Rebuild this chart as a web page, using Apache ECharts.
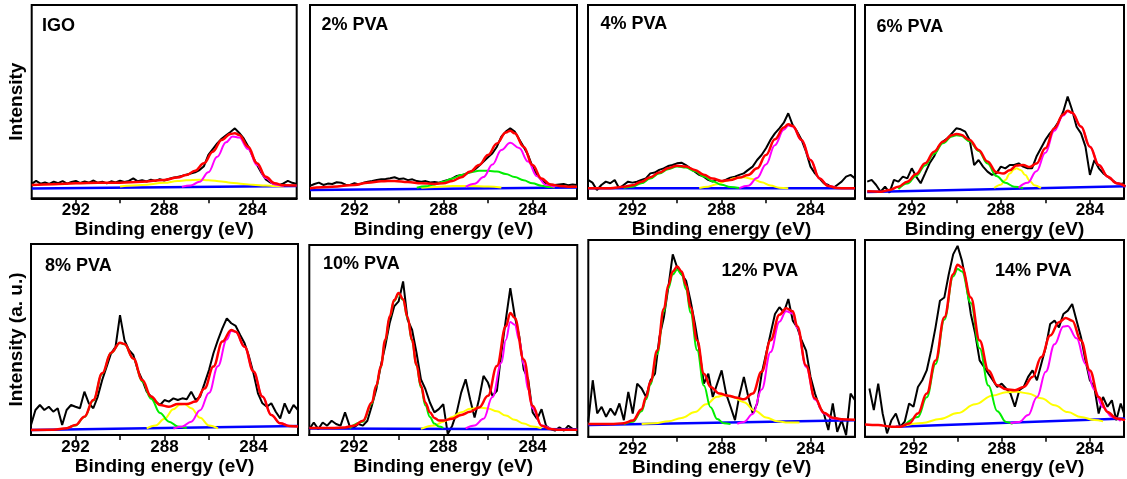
<!DOCTYPE html>
<html>
<head>
<meta charset="utf-8">
<script src="https://cdn.jsdelivr.net/npm/echarts@6/dist/echarts.min.js"></script>
<style>
html,body{margin:0;padding:0;background:#fff;}
#chart{width:1127px;height:479px;}
</style>
</head>
<body>
<div id="chart"></div>
<script>
// ---- C 1s spectra: binding energy grid of the measured points (eV) ----
const energy = [
  294.0,293.8,293.6,293.4,293.2,293.0,292.8,292.6,292.4,292.2,
  292.0,291.8,291.6,291.4,291.2,291.0,290.8,290.6,290.4,290.2,
  290.0,289.8,289.6,289.4,289.2,289.0,288.8,288.6,288.4,288.2,
  288.0,287.8,287.6,287.4,287.2,287.0,286.8,286.6,286.4,286.2,
  286.0,285.8,285.6,285.4,285.2,285.0,284.8,284.6,284.4,284.2,
  284.0,283.8,283.6,283.4,283.2,283.0,282.8,282.6,282.4,282.2,
  282.0
];

// ---- measured intensities (a. u.), one value per energy point ----
const raw_IGO = [
  7.5,9.0,7.6,8.2,7.4,8.6,7.8,8.9,7.6,8.4,
  9.0,7.9,8.7,8.1,9.2,8.0,8.6,7.7,8.8,8.2,
  9.1,8.4,9.0,10.3,8.8,9.4,8.7,9.6,9.0,9.9,
  9.2,10.0,10.6,11.0,11.6,12.2,12.8,13.4,14.6,16.6,
  22.5,25.5,28.4,30.8,32.6,34.3,36.2,33.8,31.0,26.9,
  21.8,17.4,13.2,9.8,8.2,7.2,6.8,7.7,9.0,8.0,
  7.4
];
const raw_PVA2 = [
  6.4,7.4,8.1,6.9,7.6,7.4,8.3,8.1,7.0,6.9,
  7.8,7.2,8.0,8.6,9.0,9.5,9.8,10.0,10.4,10.9,
  10.0,10.3,9.4,9.8,8.9,8.6,8.9,8.2,8.4,8.1,
  8.8,9.5,10.3,11.6,12.0,12.6,13.6,14.7,16.8,19.0,
  21.2,23.3,26.7,31.9,34.5,36.2,34.5,30.5,26.7,22.4,
  16.4,12.0,9.5,7.8,7.2,6.9,7.2,7.4,6.8,7.1,
  6.9
];
const raw_PVA4 = [
  9.5,8.1,4.3,6.9,8.6,7.8,9.5,5.2,6.9,8.6,
  8.1,8.6,9.5,10.3,12.9,13.3,14.7,15.5,16.7,17.2,
  18.1,18.4,17.2,15.5,13.8,12.1,11.2,9.5,8.6,9.5,
  8.6,9.6,10.7,11.2,12.1,12.9,14.7,16.4,19.8,22.4,
  25.9,30.2,33.6,36.2,39.1,44.0,37.9,34.5,30.2,24.1,
  16.4,12.9,10.3,7.8,6.9,5.2,6.9,8.6,11.2,12.1,
  10.3
];
const raw_PVA6 = [
  8.6,9.5,6.9,3.4,6.0,2.9,9.5,8.6,11.2,10.3,
  15.5,11.2,7.8,12.9,18.1,21.6,26.7,29.3,31.0,33.6,
  36.2,35.7,34.5,30.2,17.2,19.8,16.4,13.8,12.1,12.9,
  16.4,15.5,17.2,17.2,18.1,16.4,15.5,15.5,21.6,25.9,
  30.2,33.6,36.2,39.7,44.8,52.6,45.7,37.0,33.6,26.7,
  12.1,19.8,15.5,12.9,11.2,9.5,7.8,7.4,8.1,7.6,
  7.4
];
const raw_PVA8 = [
  5.2,13.1,15.7,13.1,14.8,12.2,14.0,5.2,13.1,15.7,
  14.8,14.0,22.7,16.6,14.0,20.1,28.8,35.8,42.8,46.2,
  62.8,49.7,44.5,41.9,34.0,28.8,22.7,20.1,17.5,15.7,
  18.3,17.5,19.2,18.3,19.2,18.7,22.7,18.3,20.1,27.0,
  34.0,42.8,49.7,55.8,61.1,58.5,57.1,52.4,48.0,41.0,
  32.3,21.8,16.6,14.8,16.6,12.2,8.7,16.6,11.3,15.7,
  13.1
];
const raw_PVA10 = [
  3.1,6.6,3.1,6.6,4.9,7.5,5.8,4.9,11.9,4.9,
  4.0,5.8,4.9,7.5,15.4,24.1,36.3,46.8,59.0,67.7,
  70.3,80.8,60.7,55.5,43.3,29.3,24.1,17.1,11.9,13.6,
  16.2,0.5,4.9,11.9,22.3,29.3,18.8,9.2,18.8,31.1,
  27.6,20.6,23.2,43.3,60.7,77.3,62.5,52.0,34.6,29.3,
  11.9,8.4,13.6,4.9,3.1,2.3,4.0,2.3,4.9,3.1,
  2.3
];
const raw_PVA12 = [
  7.6,28.7,11.8,15.2,10.1,14.3,11.0,16.9,8.4,22.8,
  11.8,27.0,24.5,20.2,28.7,32.0,50.6,60.7,75.9,92.7,
  86.0,82.6,79.3,69.1,57.3,43.8,27.0,32.0,20.2,27.0,
  33.7,21.9,15.2,8.4,21.1,30.4,20.2,11.8,16.9,32.0,
  42.2,52.3,62.4,65.8,63.2,70.0,59.0,55.6,48.9,43.8,
  30.4,21.9,15.2,11.8,3.4,16.9,2.5,8.4,0.8,21.9,
  18.5
];
const raw_PVA14 = [
  24.5,13.5,27.0,11.8,1.7,8.4,11.8,5.0,7.6,16.9,
  15.2,25.3,28.7,33.7,43.8,55.6,69.1,70.8,82.6,92.7,
  97.0,89.4,77.6,62.4,52.3,38.8,35.4,32.0,28.7,25.3,
  27.0,24.5,21.9,15.2,23.6,25.3,30.4,33.7,28.7,37.1,
  45.5,57.3,59.0,55.6,62.4,64.1,67.5,59.0,50.6,38.8,
  28.7,25.3,11.8,20.2,15.2,18.5,8.4,16.9,10.1,12.0,
  11.0
];

// ---- fitted envelopes [eV, intensity] ----
const fit_IGO = [[294,6.9],[293,7.3],[292,7.8],[291,8.0],[290,8.1],[289,8.6],[288,9.5],[287.4,10.7],[287,12],[286.6,14.3],[286.2,18.1],[285.8,24.1],[285.4,30.2],[285.0,33.3],[284.8,33.6],[284.6,32.8],[284.2,26.7],[283.8,18.1],[283.4,11.2],[283.0,7.8],[282.6,6.7],[282,6.6]];
const fit_PVA2 = [[294,5.2],[293,6.0],[292,6.9],[291.4,8.1],[290.8,8.8],[290.2,9.0],[289.6,8.4],[289,7.8],[288.4,7.4],[288,7.8],[287.6,9.0],[287.2,10.9],[286.8,13.8],[286.4,17.2],[286,22.4],[285.6,28.4],[285.2,34.0],[285,35.0],[284.8,33.6],[284.4,26.7],[284,17.2],[283.6,10.3],[283.2,7.2],[282.8,6.4],[282.4,6.0],[282,6.0]];
const fit_PVA4 = [[294,5.2],[293,5.2],[292.4,6.0],[292,6.7],[291.6,8.6],[291.2,10.9],[290.8,13.3],[290.4,15.5],[290,16.9],[289.6,16.4],[289.2,14.7],[288.8,12.2],[288.4,10.2],[288,9.0],[287.6,9.5],[287.2,10.7],[286.8,12.1],[286.4,15.5],[286,22.4],[285.6,30.5],[285.2,36.6],[285,38.3],[284.8,37.4],[284.4,30.2],[284,19.8],[283.6,10.3],[283.2,6.4],[282.8,5.3],[282.4,5.2],[282,5.2]];
const fit_PVA6 = [[294,3.6],[293.4,3.4],[293,4.3],[292.6,6.0],[292.2,8.6],[291.8,12.6],[291.4,18.1],[291,24.1],[290.6,29.3],[290.2,32.6],[290,33.3],[289.8,32.9],[289.4,30.2],[289,25],[288.6,19],[288.2,13.5],[287.9,12.8],[287.6,14.5],[287.3,17.0],[287.0,17.2],[286.7,16.2],[286.4,18.0],[286,25.9],[285.6,36.2],[285.2,43.4],[285,45.3],[284.8,44.3],[284.4,37.1],[284,26.7],[283.6,17.2],[283.2,11.2],[282.8,7.8],[282.4,6.2]];
const fit_PVA8 = [[294,2.6],[293,2.7],[292.4,3.5],[292,5.2],[291.6,9.6],[291.2,18.3],[290.8,32.3],[290.4,43.1],[290,48.3],[289.8,47.6],[289.4,40.1],[289,28.8],[288.6,20.1],[288.2,15.7],[287.8,14.8],[287.4,16.2],[287,16.2],[286.6,17.5],[286.2,24.4],[285.8,35.8],[285.4,48.9],[285,55],[284.8,54.1],[284.4,46.2],[284,33.2],[283.6,20.1],[283.2,10.5],[282.8,6.1],[282.4,4.7],[282,4.4]];
const fit_PVA10 = [[294,3.7],[293,3.7],[292.4,4.0],[292,4.9],[291.6,7.5],[291.2,17.1],[291,26],[290.8,36],[290.6,50],[290.4,62.5],[290.2,71],[290,74.7],[289.8,71.5],[289.6,62],[289.4,50],[289.2,37],[289,26],[288.8,17],[288.6,12],[288.4,9],[288.2,7.6],[288,7.6],[287.6,8.6],[287.2,10.5],[286.8,12.2],[286.4,14.5],[286,20.6],[285.6,36.3],[285.2,57.2],[285,64.2],[284.8,61.6],[284.4,39.8],[284,15.4],[283.6,4.9],[283.2,3.1],[282.8,2.8],[282,2.8]];
const fit_PVA12 = [[294,6.4],[293,6.4],[292.4,6.9],[292,8.2],[291.6,14],[291.4,20.2],[291.2,28],[290.9,43.8],[290.6,65],[290.4,77],[290.2,84],[290,86.5],[289.8,84],[289.6,77],[289.4,65.8],[289.1,48.9],[288.8,32],[288.5,25.3],[288.1,21.9],[287.7,20.8],[287.3,19.8],[287,19],[286.6,22],[286.2,33],[285.8,49],[285.4,62],[285.1,65.3],[284.8,63.8],[284.6,56.2],[284.2,36.2],[283.8,19.5],[283.4,12.2],[283,9.6],[282.6,8.9],[282,8.6]];
const fit_PVA14 = [[294.2,6.2],[293.6,5.9],[293,5.1],[292.6,5.1],[292.2,6.7],[291.8,11.8],[291.4,21.9],[291,38.8],[290.6,60.7],[290.2,82.6],[290,87.4],[289.8,86],[289.4,70.8],[289,48.9],[288.6,33.7],[288.2,26.1],[287.8,24.1],[287.4,23.6],[287,25.3],[286.6,30.4],[286.2,40.5],[285.8,51.4],[285.4,58.2],[285.1,60.4],[284.8,59],[284.4,48.9],[284,33.7],[283.6,20.2],[283.2,12.6],[282.8,9.3],[282.4,8.4]];

// ---- C–C / C=C component (~284.9 eV) ----
const cc_IGO = [[287.2,5.9],[286.8,6.6],[286.4,8.6],[286.0,13.5],[285.6,21.5],[285.2,29.0],[284.9,32.0],[284.6,31.4],[284.2,25.5],[283.8,17.2],[283.4,10.5],[283.0,7.2],[282.6,6.2]];
const cc_PVA2 = [[287,5.9],[286.6,7.5],[286.2,11],[285.8,17.5],[285.4,25],[285,28.8],[284.6,26],[284.2,19],[283.8,11.5],[283.4,7],[283,5.8]];
const cc_PVA4 = [[287.2,5.3],[286.8,6.5],[286.4,10.5],[286.0,17.5],[285.6,27.5],[285.2,35.5],[285.0,37.6],[284.8,37.2],[284.4,30],[284,19.8],[283.6,10.3],[283.2,6.4],[282.8,5.3]];
const cc_PVA6 = [[287.2,5.5],[286.8,8],[286.4,14],[286,23.5],[285.6,35],[285.2,42.8],[285,45],[284.8,44.1],[284.4,37],[284,26.7],[283.6,17.2],[283.2,11.2],[282.8,7.8],[282.4,6.2]];
const cc_PVA8 = [[287.6,3.3],[287.2,4.5],[286.8,7],[286.4,13],[286,22],[285.6,36],[285.2,50],[285,54.5],[284.8,54],[284.4,46.2],[284,33.2],[283.6,20.1],[283.2,10.5],[282.8,6.1],[282.4,4.7]];
const cc_PVA10 = [[287,3.5],[286.6,5],[286.2,8.5],[285.8,20],[285.4,38],[285.2,50],[285,59.5],[284.8,58],[284.6,50],[284.4,37],[284.2,24],[284,14],[283.6,5],[283.2,3.2]];
const cc_PVA12 = [[287.3,6.6],[287,7.5],[286.6,11.5],[286.2,24],[285.8,43],[285.4,58.5],[285.1,63.8],[284.8,62.6],[284.6,55.3],[284.2,35.5],[283.8,18.9],[283.4,11.8],[283,9.2],[282.6,8.5]];
const cc_PVA14 = [[287.6,6.8],[287.2,7.5],[286.8,11],[286.4,20],[286,33],[285.6,47],[285.2,56],[285,56.3],[284.6,50],[284.2,37],[283.8,24],[283.4,15],[283,10],[282.6,8]];

// ---- C–O component (yellow) ----
const co_IGO = [[290,6.1],[289,6.9],[288,8.0],[287.4,8.9],[287,9.3],[286.4,9.6],[286,9.4],[285.4,8.7],[285,8.1],[284.4,7.4],[284,7.0],[283.4,6.6],[283,6.3],[282.6,6.1]];
const co_PVA2 = [[289,5.4],[288.4,5.9],[287.6,6.3],[286.8,6.4],[286,6.1],[285.4,5.6]];
const co_PVA4 = [[289,5.3],[288.6,6.0],[288.2,7.3],[287.8,9.0],[287.4,10.4],[287,10.9],[286.6,10.0],[286.2,8.3],[285.8,6.6],[285.4,5.5],[285,5.2]];
const co_PVA6 = [[288.3,5.3],[288,7],[287.8,9.5],[287.6,12.8],[287.4,15.0],[287.3,15.5],[287.1,14.5],[286.9,12],[286.7,9],[286.5,6.8],[286.2,5.4]];
const co_PVA8 = [[288.8,3.5],[288.4,5],[288,8.5],[287.6,13.5],[287.3,16.0],[287.1,16.2],[286.8,14],[286.4,9],[286,5],[285.6,3.5]];
const co_PVA10 = [[289,3.2],[288.4,5],[288,7.0],[287.6,9.5],[287.2,12],[286.8,13.8],[286.4,14.5],[286,14],[285.6,12.5],[285.2,10.2],[284.8,8],[284.4,6],[284,4.5],[283.6,3.5]];
const co_PVA12 = [[291.6,6.4],[291,6.9],[290.4,7.8],[289.8,9.5],[289.2,12.5],[288.7,16.5],[288.2,20.3],[287.9,21.1],[287.5,20.3],[287,17.5],[286.5,13.2],[286,9.8],[285.5,7.8],[285,7.2],[284.5,7.2]];
const co_PVA14 = [[292.5,5.5],[291.6,7],[290.8,9],[290,12],[289.2,16.5],[288.4,21],[287.8,22.6],[287.3,22.8],[286.8,22],[286.2,19.5],[285.6,16],[285,12.5],[284.4,10],[283.8,8.5],[283.4,7.8]];

// ---- higher-energy component (green) ----
const hi_PVA2 = [[289.2,5.5],[288.8,6.2],[288.4,7.2],[288,8.6],[287.6,10.3],[287.2,12],[286.8,13.4],[286.4,14.2],[286,14.3],[285.6,13.8],[285.2,12.6],[284.8,11],[284.4,9.3],[284,7.8],[283.6,6.5],[283.2,5.8],[283,5.6]];
const hi_PVA4 = [[292.4,5.5],[292,6.0],[291.6,7.8],[291.2,10.2],[290.8,12.8],[290.4,15.0],[290,16.4],[289.6,15.9],[289.2,14.0],[288.8,11.3],[288.4,8.8],[288,7.0],[287.6,5.8],[287.2,5.3]];
const hi_PVA6 = [[292.6,4.8],[292.2,7.6],[291.8,11.6],[291.4,17],[291,23],[290.6,28.5],[290.2,32],[290,32.6],[289.8,32.3],[289.4,29.5],[289,24.5],[288.6,18],[288.2,11.5],[287.8,8],[287.4,6],[287,5.3]];
const hi_PVA8 = [[292.4,3.3],[292,5.0],[291.6,9.4],[291.2,18],[290.8,32],[290.4,43],[290,48.2],[289.8,47.5],[289.4,40],[289,28],[288.6,19],[288.2,11.5],[287.8,7],[287.4,4.5],[287,3.6]];
const hi_PVA10 = [[292.2,3.6],[291.6,7],[291.2,16.5],[291,25.5],[290.8,35.5],[290.6,49.5],[290.4,62],[290.2,70.5],[290,74.2],[289.8,71],[289.6,61.5],[289.4,49.5],[289.2,36.5],[289,25],[288.8,15.5],[288.6,9.5],[288.4,6],[288.2,4.5],[288,3.8]];
const hi_PVA12 = [[292.4,6.4],[292,7.6],[291.6,13],[291.4,19],[291.2,26.5],[290.9,42],[290.6,63.5],[290.4,75.5],[290.2,82.5],[290,85],[289.8,82.5],[289.6,75],[289.4,63],[289.1,44],[288.8,26],[288.5,15],[288.2,9],[287.9,6.8],[287.6,6.4]];
const hi_PVA14 = [[292.4,5.8],[291.8,10],[291.4,20],[291,37],[290.6,59.5],[290.2,81.5],[290,85.2],[289.8,84],[289.4,68],[289,45],[288.6,26],[288.2,13],[287.8,7.5],[287.5,6.5]];

// ---- linear backgrounds ----
const bg_IGO = [[294,5.1],[282,6.3]];
const bg_PVA2 = [[294,4.3],[282,5.6]];
const bg_PVA4 = [[294,5.2],[282,5.2]];
const bg_PVA6 = [[294,3.2],[282.4,6.2]];
const bg_PVA8 = [[294,2.6],[282,4.7]];
const bg_PVA10 = [[294,3.4],[282,3.0]];
const bg_PVA12 = [[294,6.0],[282,8.4]];
const bg_PVA14 = [[292.8,5.0],[282.4,9.3]];

// ---- panel labels and axis ticks ----
const sampleNames = ['IGO','2% PVA','4% PVA','6% PVA','8% PVA','10% PVA','12% PVA','14% PVA'];
const tickValues = [284, 286, 288, 290, 292];
const labelValues = [284, 288, 292];
const energyRanges = [[282,294],[282,294],[282,294],[282.47,294.1],[282,294],[282,294],[282,294],[282.45,294.2]];

// ---- layout (px) ----
const boxes = [
  [31.7,5,265,193.3],[310,5,267,193.3],[588,5,267,193.3],[865,5,259,193.3],
  [31,244,267,191],[309.3,245,268,190],[588.3,240,266.7,196.7],[865,240,259,196.7]
];
const titleAt = [[42,17],[321.5,16],[600.5,15],[876.5,18.5],[45,257.5],[323,255],[721.5,262],[995,262]];
const nameGaps = [16,15,12,13,20,18,15,15];

const rawSets = [raw_IGO,raw_PVA2,raw_PVA4,raw_PVA6,raw_PVA8,raw_PVA10,raw_PVA12,raw_PVA14];
const fitSets = [fit_IGO,fit_PVA2,fit_PVA4,fit_PVA6,fit_PVA8,fit_PVA10,fit_PVA12,fit_PVA14];
const ccSets = [cc_IGO,cc_PVA2,cc_PVA4,cc_PVA6,cc_PVA8,cc_PVA10,cc_PVA12,cc_PVA14];
const coSets = [co_IGO,co_PVA2,co_PVA4,co_PVA6,co_PVA8,co_PVA10,co_PVA12,co_PVA14];
const hiSets = [null,hi_PVA2,hi_PVA4,hi_PVA6,hi_PVA8,hi_PVA10,hi_PVA12,hi_PVA14];
const bgSets = [bg_IGO,bg_PVA2,bg_PVA4,bg_PVA6,bg_PVA8,bg_PVA10,bg_PVA12,bg_PVA14];

const FONT = 'Liberation Sans, Arial, sans-serif';
const grids = [], xAxes = [], yAxes = [], titles = [], series = [];

sampleNames.forEach((name, k) => {
  const [l, t, w, h] = boxes[k];
  grids.push({left: l, top: t, width: w, height: h, show: true,
    borderColor: '#000', borderWidth: 2, backgroundColor: '#fff'});
  xAxes.push({
    gridIndex: k, type: 'value', inverse: true,
    min: energyRanges[k][0], max: energyRanges[k][1],
    axisLine: {onZero: false, lineStyle: {color: '#000', width: 2}},
    axisTick: {customValues: tickValues, length: 5, lineStyle: {color: '#000', width: 1.5}},
    axisLabel: {customValues: labelValues, margin: 4, color: '#000',
      fontSize: 17, fontWeight: 'bold', fontFamily: FONT},
    splitLine: {show: false},
    name: 'Binding energy (eV)', nameLocation: 'middle', nameGap: nameGaps[k],
    nameTextStyle: {color: '#000', fontSize: 19, fontWeight: 'bold', fontFamily: FONT}
  });
  yAxes.push({
    gridIndex: k, type: 'value', min: 0, max: 100,
    axisLine: {show: false}, axisTick: {show: false}, axisLabel: {show: false},
    splitLine: {show: false},
    name: k === 0 ? 'Intensity' : (k === 4 ? 'Intensity (a. u.)' : ''),
    nameLocation: 'middle', nameGap: 5,
    nameTextStyle: {color: '#000', fontSize: 19, fontWeight: 'bold', fontFamily: FONT}
  });
  titles.push({text: name, left: titleAt[k][0], top: titleAt[k][1], padding: 0,
    textStyle: {color: '#000', fontSize: 18, fontWeight: 'bold', fontFamily: FONT}});

  const base = {type: 'line', xAxisIndex: k, yAxisIndex: k, showSymbol: false,
    symbol: 'none', animation: false, silent: true, clip: true};
  series.push(Object.assign({}, base, {
    data: energy.map((e, i) => [e, rawSets[k][i]]),
    lineStyle: {color: '#000', width: 2}, z: 2}));
  series.push(Object.assign({}, base, {
    data: bgSets[k], lineStyle: {color: '#0000ff', width: 2.5}, z: 3}));
  series.push(Object.assign({}, base, {
    data: coSets[k], smooth: 0.4, smoothMonotone: 'x',
    lineStyle: {color: '#ffff00', width: 2}, z: 3}));
  if (hiSets[k]) {
    series.push(Object.assign({}, base, {
      data: hiSets[k], smooth: 0.4, smoothMonotone: 'x',
      lineStyle: {color: '#00ee00', width: 2}, z: 3}));
  }
  series.push(Object.assign({}, base, {
    data: ccSets[k], smooth: 0.4, smoothMonotone: 'x',
    lineStyle: {color: '#ff00ff', width: 2}, z: 3}));
  series.push(Object.assign({}, base, {
    data: fitSets[k], smooth: 0.4, smoothMonotone: 'x',
    lineStyle: {color: '#ff0000', width: 2.5}, z: 4}));
});

const chart = echarts.init(document.getElementById('chart'), null, {renderer: 'canvas'});
chart.setOption({
  backgroundColor: '#fff',
  animation: false,
  title: titles,
  grid: grids,
  xAxis: xAxes,
  yAxis: yAxes,
  series: series
});
</script>
</body>
</html>
